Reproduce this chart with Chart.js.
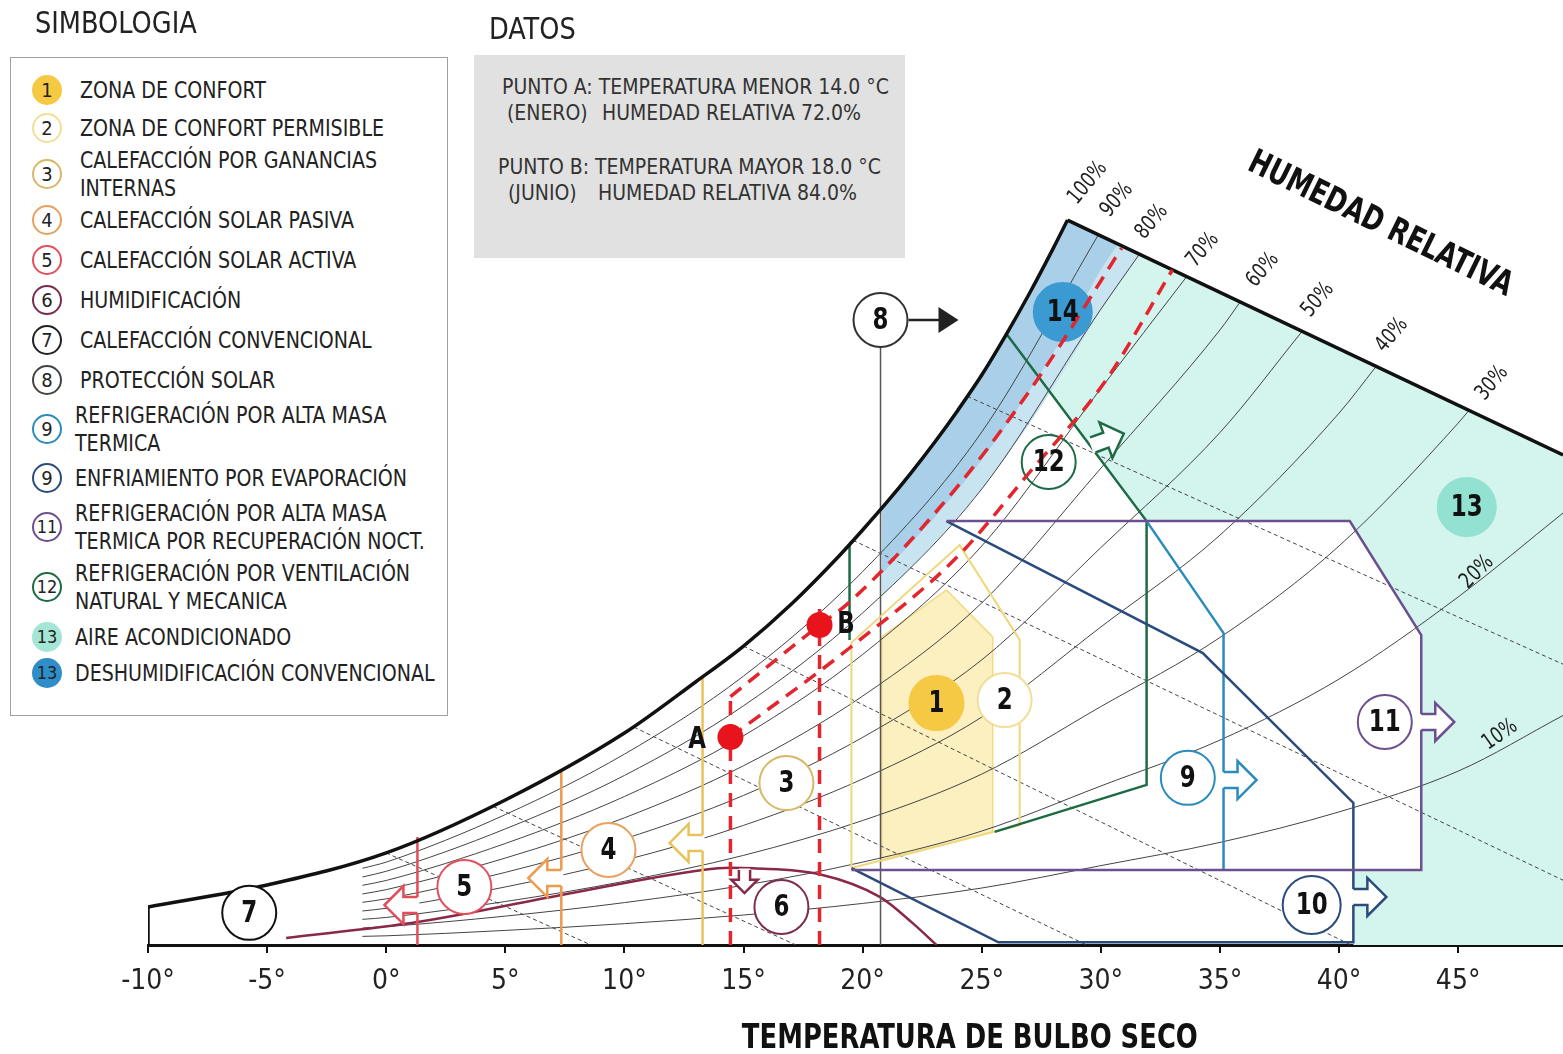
<!DOCTYPE html>
<html lang="es">
<head>
<meta charset="utf-8">
<title>Carta bioclimática</title>
<script src="https://cdn.jsdelivr.net/npm/chart.js@4.4.1/dist/chart.umd.min.js"></script>
<style>
  html, body { margin: 0; padding: 0; background: #fff; }
  #wrap { position: relative; width: 1563px; height: 1054px; overflow: hidden;
          font-family: "Liberation Sans Narrow", "DejaVu Sans Condensed", Roboto, sans-serif; color: #222; }
  #chart { position: absolute; left: 0; top: 0; }
  .title { position: absolute; font-size: 31px; line-height: 31px; color: #222; transform: scaleX(0.92); transform-origin: 0 0; }
  #legend { position: absolute; left: 10px; top: 57px; width: 436px; height: 657px; border: 1.5px solid #a0a0a0; background: #fff; }
  .row { position: absolute; font-size: 23px; line-height: 28px; white-space: nowrap; color: #222; transform: scaleX(0.92); transform-origin: 0 0; }
  .dot { position: absolute; width: 30px; height: 30px; border-radius: 50%; box-sizing: border-box; border: 2px solid;
         font-size: 20px; line-height: 26px; text-align: center; }
  #datos { position: absolute; left: 474px; top: 55px; width: 431px; height: 203px; background: #e1e1e1; }
  .dline { position: absolute; font-size: 21px; line-height: 26px; white-space: nowrap; color: #333; }
</style>
</head>
<body>
<div id="wrap">
  <canvas id="chart" width="1563" height="1054"></canvas>
  <div class="title" style="left:35px;top:7px">SIMBOLOGIA</div>
  <div class="title" style="left:489px;top:13px">DATOS</div>
  <div id="legend"></div>
  <div id="datos"></div>
</div>
<script>
const FONT = '"Liberation Sans Narrow", "DejaVu Sans Condensed", Roboto, sans-serif';

// x: temperatura de bulbo seco (°C); y: humedad absoluta (g/kg, eje oculto)
const tempMin = -10, tempMax = 49.4, humMax = 35;

// curva de saturacion (100 %)
const satT = [-10, -5, 0, 5, 10, 13, 15, 17, 19, 20, 21, 22, 23, 24, 25, 26, 27, 28, 28.6];
const satW = [1.41, 2.22, 3.41, 5.37, 7.85, 9.75, 11.07, 12.62, 14.40, 15.37, 16.38, 17.45, 18.59, 19.81, 21.11, 22.57, 24.13, 25.80, 26.85];
const leftEdge = [[-10, 0], [-10, 1.41]];
const topEdge = [[28.6, 26.85], [49.4, 18.15]];

// curvas de humedad relativa
const hr90 = [[-1, 2.84], [0, 3.07], [5, 4.83], [10, 7.07], [15, 9.96], [20, 13.83], [25, 19.0], [29.9, 26.31]];
const hr80 = [[-1, 2.52], [0, 2.73], [5, 4.30], [10, 6.28], [15, 8.86], [20, 12.30], [25, 16.89], [30, 23.55], [31.62, 25.59]];
const hr70 = [[-1, 2.21], [0, 2.39], [5, 3.76], [10, 5.50], [15, 7.75], [20, 10.76], [25, 14.78], [30, 20.61], [33.6, 24.75]];
const hr60 = [[-1, 1.89], [0, 2.05], [5, 3.22], [10, 4.71], [15, 6.64], [20, 9.22], [25, 12.67], [30, 17.66], [35, 22.78], [35.85, 23.82]];
const hr50 = [[-1, 1.58], [0, 1.71], [5, 2.69], [10, 3.93], [15, 5.54], [20, 7.69], [25, 10.56], [30, 14.72], [35, 18.98], [38.45, 22.73]];
const hr40 = [[-1, 1.26], [0, 1.36], [5, 2.15], [10, 3.14], [15, 4.43], [20, 6.15], [25, 8.44], [30, 11.78], [35, 15.18], [40, 19.70], [41.55, 21.42]];
const hr30 = [[-1, 0.95], [0, 1.02], [5, 1.61], [10, 2.36], [15, 3.32], [20, 4.61], [25, 6.33], [30, 8.83], [35, 11.39], [40, 14.78], [45, 19.33], [45.45, 19.80]];
const hr20 = [[-1, 0.63], [0, 0.68], [5, 1.07], [10, 1.57], [15, 2.21], [20, 3.07], [25, 4.22], [30, 5.89], [35, 7.59], [40, 9.85], [45, 12.89], [49.4, 16.0]];
const hr10 = [[-1, 0.32], [0, 0.34], [5, 0.54], [10, 0.79], [15, 1.11], [20, 1.54], [25, 2.11], [30, 2.94], [35, 3.80], [40, 4.93], [45, 6.44], [49.4, 8.5]];

// lineas de bulbo humedo
const wb0 = [[0, 3.41], [8.6, 0]];
const wb5 = [[4.5, 5.13], [17.2, 0]];
const wb10 = [[10.4, 8.07], [29.4, 0]];
const wb15 = [[15, 11.07], [40.5, 0]];
const wb20 = [[19.6, 14.99], [49.4, 2.4]];
const wb25 = [[24.4, 20.32], [49.4, 10.4]];

// zonas
const zone13 = [[26.04, 22.63], [31.92, 15.7], [40.45, 15.7], [43.45, 11.48], [43.45, 2.78], [40.6, 2.78], [40.6, 0], [49.4, 0],
                [49.4, 18.15], [28.6, 26.85], [28, 25.80], [27, 24.13], [26.04, 22.63]];
const zone14a = [[20.8, 16.17], [21, 16.38], [22, 17.45], [23, 18.59], [24, 19.81], [25, 21.11], [26, 22.57], [27, 24.13], [28, 25.80], [28.6, 26.85],
                 [30.72, 25.96], [30, 25.02], [29, 23.43], [28, 21.93], [27, 20.51], [26, 19.18], [25, 17.94], [24, 16.84], [23, 15.80],
                 [22, 14.83], [21, 13.92], [20.8, 13.74], [20.8, 16.17]];
const zone14b = [[20.8, 13.74], [21, 13.92], [22, 14.83], [23, 15.80], [24, 16.84], [25, 17.94], [26, 19.18], [27, 20.51], [28, 21.93], [29, 23.43],
                 [30, 25.02], [30.72, 25.96], [31.62, 25.59], [31, 24.78], [30, 23.55], [29, 22.05], [28, 20.64], [27, 19.30], [26, 18.06],
                 [25, 16.89], [24, 15.85], [23, 14.87], [22, 13.96], [21, 13.10], [20.8, 12.94], [20.8, 13.74]];
const zone1 = [[20.8, 3.11], [20.8, 11.41], [23.52, 13.15], [25.46, 11.41], [25.46, 4.19], [20.8, 3.11]];
const zone2 = [[19.53, 2.85], [19.53, 11.2], [24.07, 14.81], [26.59, 11.3], [26.59, 4.44], [19.53, 2.85]];
const zone3 = [[13.28, 0], [13.28, 9.94]];
const zone4 = [[7.35, 0], [7.35, 6.42]];
const zone5 = [[1.31, 0], [1.31, 4.0]];
const zone6 = [[-4.2, 0.26], [1.31, 0.85], [7.35, 1.85], [13.28, 2.78], [14.45, 2.86], [15.4, 2.84], [18.19, 2.62], [20.72, 1.78], [22.1, 0.81], [23.1, 0]];
const zone8 = [[20.75, 0], [20.75, 22.15]];
const zone9 = [[31.92, 15.7], [35.15, 11.55], [35.15, 2.78]];
const zone10 = [[23.52, 15.7], [34.28, 10.81], [40.6, 5.26], [40.6, 0.1], [25.7, 0.1], [19.53, 2.85]];
const zone11 = [[23.52, 15.7], [40.45, 15.7], [43.45, 11.48], [43.45, 2.78], [19.53, 2.78]];
const zone12 = [[19.45, 11.3], [19.45, 14.83], [20, 15.37], [21, 16.38], [22, 17.45], [23, 18.59], [24, 19.81], [25, 21.11], [26, 22.57],
                [26.04, 22.63], [31.92, 15.7], [31.92, 5.93], [25.54, 4.19]];

// puntos del sitio (A: enero 14 °C / 72 %, B: junio 18 °C / 84 %)
const siteT = [14.45, 18.19];
const siteW = [7.70, 11.85];
const lineA = [[14.45, 0], [14.45, 9.2]];
const lineB = [[18.19, 0], [18.19, 12.78]];
const hr84 = [[14.45, 9.2], [18.19, 11.85], [19.45, 12.7], [23.96, 16.96], [27.3, 20.9], [30.87, 25.81]];
const hr72 = [[14.45, 7.70], [19.45, 11.0], [24.0, 14.4], [27.0, 17.5], [30.2, 20.9], [33.0, 25.0]];

// circulos numerados de las zonas
const zoneNum = ['1', '2', '3', '4', '5', '6', '7', '8', '9', '10', '11', '12', '13', '14'];
const zoneT = [23.10, 25.96, 16.80, 9.33, 3.28, 16.59, -5.75, 20.75, 33.65, 38.85, 41.92, 27.81, 45.36, 28.40];
const zoneW = [8.96, 9.07, 6.0, 3.52, 2.15, 1.41, 1.19, 23.15, 6.19, 1.48, 8.26, 17.89, 16.22, 23.44];
const zoneFill = ['#f6c944', '#fff', '#fff', '#fff', '#fff', '#fff', '#fff', '#fff', '#fff', '#fff', '#fff', 'rgba(255,255,255,0)', '#93e1d0', '#3b9ad2'];
const zoneEdge = ['#f6c944', '#f1df97', '#d9b865', '#e9a15e', '#e2505e', '#7c2c4e', '#111', '#333', '#2b8cbc', '#2a4b7c', '#6b4f8f', '#1d6b45', '#93e1d0', '#3b9ad2'];

// flechas de las estrategias
const arrowT = [13.28, 7.35, 1.31, 15.04, 35.15, 40.6, 43.45, 29.66];
const arrowW = [3.78, 2.48, 1.48, 2.78, 6.11, 1.78, 8.26, 18.52];
const arrowDeg = [180, 180, 180, 90, 0, 0, 0, -20];
const arrowColor = ['#e8c25a', '#ec9a4c', '#e34c5a', '#8a2848', '#2b8cbc', '#2a4b7c', '#6b4f8f', '#1d6b45'];

// rotulos de humedad relativa
const pctText = ['100%', '90%', '80%', '70%', '60%', '50%', '40%', '30%', '20%', '10%'];
const pctT = [29.45, 30.67, 32.14, 34.28, 36.80, 39.11, 42.22, 46.42, 45.79, 46.76];
const pctW = [28.22, 27.59, 26.78, 25.74, 25.0, 23.89, 22.59, 20.81, 13.81, 7.78];
const pctDeg = [-50, -50, -50, -50, -50, -50, -50, -50, -45, -35];

// simbologia
const legendNum = ['1', '2', '3', '4', '5', '6', '7', '8', '9', '9', '11', '12', '13', '13'];
const legendText = [
  ['ZONA DE CONFORT'], ['ZONA DE CONFORT PERMISIBLE'], ['CALEFACCIÓN POR GANANCIAS', 'INTERNAS'],
  ['CALEFACCIÓN SOLAR PASIVA'], ['CALEFACCIÓN SOLAR ACTIVA'], ['HUMIDIFICACIÓN'], ['CALEFACCIÓN CONVENCIONAL'],
  ['PROTECCIÓN SOLAR'], ['REFRIGERACIÓN POR ALTA MASA', 'TERMICA'], ['ENFRIAMIENTO POR EVAPORACIÓN'],
  ['REFRIGERACIÓN POR ALTA MASA', 'TERMICA POR RECUPERACIÓN NOCT.'], ['REFRIGERACIÓN POR VENTILACIÓN', 'NATURAL Y MECANICA'],
  ['AIRE ACONDICIONADO'], ['DESHUMIDIFICACIÓN CONVENCIONAL']
];
const legendY = [90, 128, 174, 220, 260, 300, 340, 380, 429, 478, 527, 587, 637, 673];
const legendFill = ['#f6c944', '#fff', '#fff', '#fff', '#fff', '#fff', '#fff', '#fff', '#fff', '#fff', '#fff', '#fff', '#a4e6d6', '#2f8ec9'];
const legendEdge = ['#f6c944', '#f1df97', '#d9b865', '#e9a15e', '#e2505e', '#7c2c4e', '#222', '#444', '#2b8cbc', '#2a4b7c', '#6b4f8f', '#1d6b45', '#a4e6d6', '#2f8ec9'];

// datos del sitio
const datosRows = [
  [[502, 'PUNTO A: TEMPERATURA MENOR 14.0 °C']],
  [[507, '(ENERO)'], [602, 'HUMEDAD RELATIVA 72.0%']],
  [[498, 'PUNTO B: TEMPERATURA MAYOR 18.0 °C']],
  [[508, '(JUNIO)'], [598, 'HUMEDAD RELATIVA 84.0%']]
];
const datosY = [87, 113, 167, 193];

// ---- html: simbologia y datos
const wrap = document.getElementById('wrap');
legendNum.forEach((n, i) => {
  const lines = legendText[i];
  const dot = document.createElement('div');
  dot.className = 'dot';
  dot.style.left = '32px';
  dot.style.top = (legendY[i] - 15) + 'px';
  dot.style.background = legendFill[i];
  dot.style.borderColor = legendEdge[i];
  if (n.length > 1) dot.style.fontSize = '18px';
  dot.textContent = n;
  wrap.appendChild(dot);
  const row = document.createElement('div');
  row.className = 'row';
  row.style.left = (i < 8 ? 80 : 75) + 'px';
  row.style.top = (legendY[i] - 14 * lines.length) + 'px';
  row.innerHTML = lines.join('<br>');
  wrap.appendChild(row);
});
datosRows.forEach((parts, i) => {
  parts.forEach(([left, txt]) => {
    const d = document.createElement('div');
    d.className = 'dline';
    d.style.left = left + 'px';
    d.style.top = (datosY[i] - 13) + 'px';
    d.textContent = txt;
    wrap.appendChild(d);
  });
});

// ---- chart
const pts = a => a.map(([x, y]) => ({x, y}));
const line = (data, color, width, extra) => Object.assign({
  data: pts(data), showLine: true, borderColor: color, borderWidth: width,
  pointRadius: 0, fill: false, tension: 0
}, extra || {});
const area = (data, color, edge, width) => line(data, edge || color, width || 0, {fill: 'shape', backgroundColor: color});
const smooth = {cubicInterpolationMode: 'monotone'};
const thin = '#444';
const red = '#e3262e';

const layers = [
  area(zone13, '#d4f4ee'),
  area(zone14b, '#c9e4f1'),
  area(zone14a, '#a9d0e8'),
  area(zone1, '#fcefc0', '#f1da86', 1.5),
  ...[hr90, hr80, hr70, hr60, hr50, hr40, hr30, hr20, hr10].map(c => line(c, thin, 1, smooth)),
  ...[wb0, wb5, wb10, wb15, wb20, wb25].map(c => line(c, thin, 1, {borderDash: [4, 3]})),
  line(zone6, '#8a2848', 2.5, smooth),
  line(zone3, '#e8c25a', 2.5),
  line(zone4, '#ec9a4c', 2.5),
  line(zone5, '#e34c5a', 2.5),
  line(zone8, '#555', 1.5),
  line(zone2, '#f0d77c', 2),
  line(zone12, '#1d6b45', 2.5),
  line(zone9, '#2b8cbc', 2.5),
  line(zone10, '#2a4b7c', 2.5),
  line(zone11, '#6b4f8f', 2.5),
  line(leftEdge, '#111', 3.5),
  line(satT.map((t, i) => [t, satW[i]]), '#111', 3.5, smooth),
  line(topEdge, '#111', 3.5),
  {
    data: zoneT.map((t, i) => ({x: t, y: zoneW[i]})), showLine: false,
    pointRadius: zoneNum.map(n => (n === '13' || n === '14' || n === '10') ? 29 : 27),
    pointBackgroundColor: zoneFill, pointBorderColor: zoneEdge, pointBorderWidth: 2
  },
  line(lineA, red, 3.5, {borderDash: [14, 9]}),
  line(lineB, red, 3.5, {borderDash: [14, 9]}),
  line(hr84, red, 3.5, Object.assign({borderDash: [14, 9]}, smooth)),
  line(hr72, red, 3.5, Object.assign({borderDash: [14, 9]}, smooth)),
  {
    data: siteT.map((t, i) => ({x: t, y: siteW[i]})), showLine: false,
    pointRadius: 13, pointBackgroundColor: '#e8141c', pointBorderWidth: 0
  }
];
// first in the list is the bottom layer
layers.forEach((d, i) => { d.order = -i; });

function hollowArrow(ctx, x, y, deg, color, s) {
  ctx.save();
  ctx.translate(x, y);
  ctx.rotate(deg * Math.PI / 180);
  ctx.scale(s, s);
  ctx.beginPath();
  ctx.moveTo(-2, -8); ctx.lineTo(14, -8); ctx.lineTo(14, -19); ctx.lineTo(33, 0);
  ctx.lineTo(14, 19); ctx.lineTo(14, 8); ctx.lineTo(-2, 8); ctx.closePath();
  ctx.fillStyle = '#fff';
  ctx.fill();
  ctx.beginPath();
  ctx.moveTo(0, -8); ctx.lineTo(14, -8); ctx.lineTo(14, -19); ctx.lineTo(33, 0);
  ctx.lineTo(14, 19); ctx.lineTo(14, 8); ctx.lineTo(0, 8);
  ctx.strokeStyle = color;
  ctx.lineWidth = 2.5 / s;
  ctx.lineJoin = 'miter';
  ctx.stroke();
  ctx.restore();
}

function label(ctx, txt, x, y, deg, font, color, squeeze) {
  ctx.save();
  ctx.translate(x, y);
  ctx.rotate(deg * Math.PI / 180);
  ctx.scale(squeeze || 1, 1);
  ctx.font = font;
  ctx.fillStyle = color || '#111';
  ctx.textAlign = 'center';
  ctx.textBaseline = 'middle';
  ctx.fillText(txt, 0, 0);
  ctx.restore();
}

const annotations = {
  id: 'annotations',
  afterDatasetsDraw(chart) {
    const {ctx} = chart;
    const sx = chart.scales.x, sy = chart.scales.y;
    const px = v => sx.getPixelForValue(v), py = v => sy.getPixelForValue(v);

    arrowT.forEach((t, i) => {
      hollowArrow(ctx, px(t), py(arrowW[i]), arrowDeg[i], arrowColor[i], arrowDeg[i] === 90 ? 0.7 : 1);
    });

    // flecha de proteccion solar
    const ax = px(zoneT[7]) + 28, ay = py(zoneW[7]);
    ctx.save();
    ctx.strokeStyle = '#222'; ctx.fillStyle = '#222'; ctx.lineWidth = 2.5;
    ctx.beginPath(); ctx.moveTo(ax, ay); ctx.lineTo(ax + 34, ay); ctx.stroke();
    ctx.beginPath(); ctx.moveTo(ax + 30, ay - 13); ctx.lineTo(ax + 50, ay); ctx.lineTo(ax + 30, ay + 13); ctx.closePath(); ctx.fill();
    ctx.restore();

    zoneNum.forEach((n, i) => {
      label(ctx, n, px(zoneT[i]), py(zoneW[i]) + 1, 0, 'bold 30px ' + FONT, '#111', 0.85);
    });
    label(ctx, 'A', px(13.05), py(7.59), 0, 'bold 30px ' + FONT, '#111', 0.85);
    label(ctx, 'B', px(19.3), py(11.85), 0, 'bold 30px ' + FONT, '#111', 0.85);

    pctText.forEach((p, i) => {
      label(ctx, p, px(pctT[i]), py(pctW[i]), pctDeg[i], '22px ' + FONT, '#222', 0.85);
    });
    label(ctx, 'HUMEDAD RELATIVA', px(41.72), py(26.67), 26, 'bold 34px ' + FONT, '#111', 0.83);
    label(ctx, 'TEMPERATURA DE BULBO SECO', px(24.5), sx.bottom + 44, 0, 'bold 34px ' + FONT, '#111', 0.845);
  }
};

new Chart(document.getElementById('chart'), {
  type: 'scatter',
  data: {datasets: layers},
  options: {
    responsive: false,
    animation: false,
    devicePixelRatio: 1,
    layout: {autoPadding: false, padding: {left: 148, right: 0, top: 0, bottom: 59}},
    plugins: {legend: {display: false}, tooltip: {enabled: false}},
    scales: {
      x: {
        type: 'linear', min: tempMin, max: tempMax,
        border: {display: true, color: '#111', width: 3},
        grid: {drawOnChartArea: false, drawTicks: true, tickLength: 8, color: '#111', lineWidth: 2},
        ticks: {
          stepSize: 5, includeBounds: false, autoSkip: false, maxRotation: 0, padding: 12,
          color: '#222', font: {family: FONT, size: 28},
          callback: v => v + '°'
        },
        afterFit: s => { s.height = 50; s.paddingLeft = 0; s.paddingRight = 0; }
      },
      y: {display: false, min: 0, max: humMax}
    }
  },
  plugins: [annotations]
});
</script>
</body>
</html>
